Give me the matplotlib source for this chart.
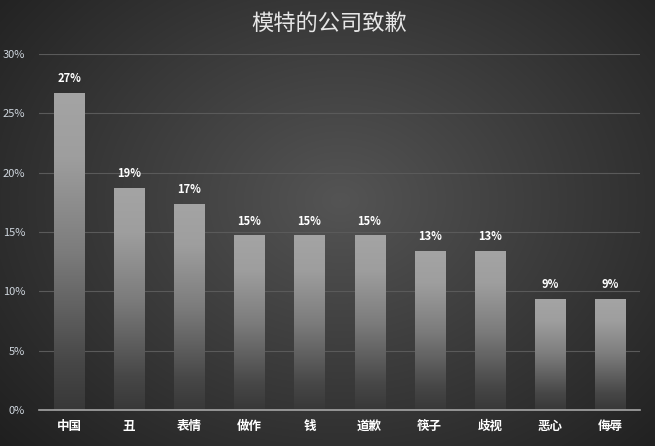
import numpy as np
import matplotlib
matplotlib.use("Agg")
import matplotlib.pyplot as plt
from matplotlib.colors import LinearSegmentedColormap

plt.rcParams['font.family'] = ['Noto Sans CJK SC', 'DejaVu Sans']

categories = ['中国', '丑', '表情', '做作', '钱', '道歉', '筷子', '歧视', '恶心', '侮辱']
values = [26.67, 18.67, 17.33, 14.67, 14.67, 14.67, 13.33, 13.33, 9.33, 9.33]
labels = ['27%', '19%', '17%', '15%', '15%', '15%', '13%', '13%', '9%', '9%']
yticks = [0, 5, 10, 15, 20, 25, 30]
title = '模特的公司致歉'

fig = plt.figure(figsize=(6.55, 4.46), dpi=100)

# radial background
bg = fig.add_axes([0, 0, 1, 1], zorder=-10)
yy, xx = np.mgrid[0:446, 0:655]
r = np.sqrt(((xx - 340) / 420.0) ** 2 + ((yy - 200) / 330.0) ** 2)
shade = np.clip(0.33 - 0.19 * r, 0.12, 0.33)
bg.imshow(np.dstack([shade] * 3), aspect='auto', extent=[0, 1, 0, 1])
bg.axis('off')

ax = fig.add_axes([39 / 655, 36 / 446, 601 / 655, 356 / 446])
ax.patch.set_alpha(0)

bar_cmap = LinearSegmentedColormap.from_list(
    'bar', [(0, '#383838'), (0.15, '#474747'), (0.5, '#7c7c7c'),
            (0.8, '#9e9e9e'), (1, '#a4a4a4')])
grad = np.linspace(0, 1, 256).reshape(-1, 1)
x = np.arange(len(categories))
for xi, v, lab in zip(x, values, labels):
    ax.imshow(grad, cmap=bar_cmap, origin='lower', aspect='auto',
              extent=[xi - 0.25, xi + 0.25, 0, v], zorder=2)
    ax.text(xi, v + 1.25, lab, ha='center', va='center', color='white',
            fontsize=8, fontweight='bold', zorder=3)

ax.set_xlim(-0.5, len(categories) - 0.5)
ax.set_ylim(0, 30)
ax.set_yticks(yticks)
ax.set_yticklabels([f'{t}%' for t in yticks], color='#cfd6de', fontsize=8)
ax.set_xticks(x)
ax.set_xticklabels(categories, color='white', fontsize=9, fontweight='bold')
ax.tick_params(axis='both', length=0)
ax.tick_params(axis='x', pad=7)
ax.tick_params(axis='y', pad=10)
ax.grid(axis='y', color='#5a5a5a', linewidth=0.8, zorder=0)
ax.set_axisbelow(True)
for s in ['top', 'right', 'left']:
    ax.spines[s].set_visible(False)
ax.spines['bottom'].set_color('#a6a6a6')
ax.spines['bottom'].set_linewidth(1.2)
ax.spines['bottom'].set_zorder(4)

fig.text(0.502, 0.948, title, ha='center', va='center', color='#e6e6e6', fontsize=16)

fig.savefig('out.png', dpi=100)
